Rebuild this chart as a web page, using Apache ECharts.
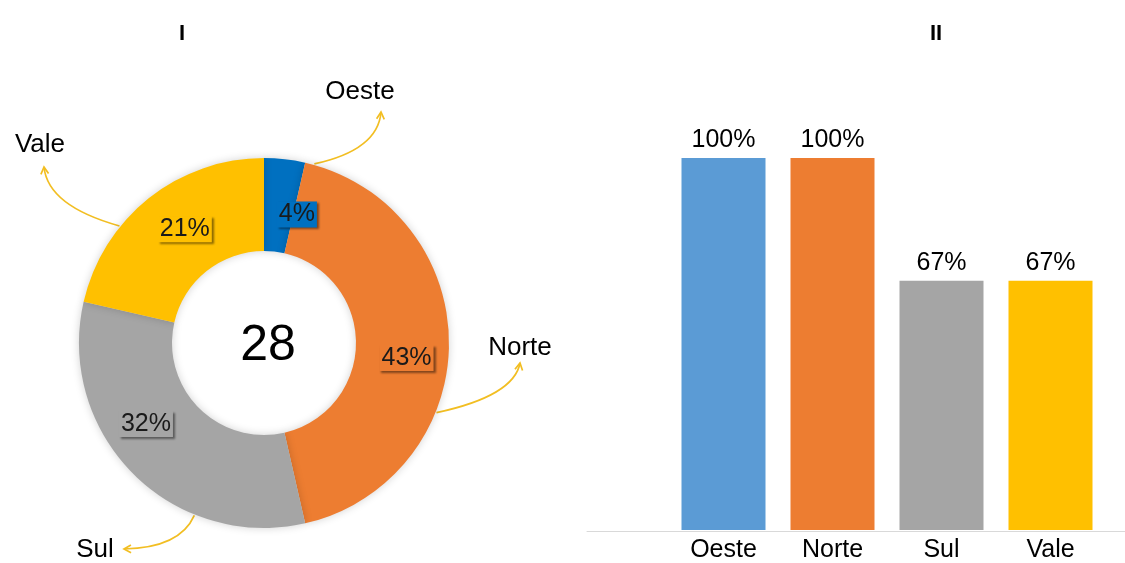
<!DOCTYPE html>
<html>
<head>
<meta charset="utf-8">
<script src="https://cdn.jsdelivr.net/npm/echarts@6/dist/echarts.min.js"></script>
<style>
  html, body { margin: 0; padding: 0; background: #ffffff; }
  #chart { width: 1125px; height: 563px; }
</style>
</head>
<body>
<div id="chart"></div>
<script>
// ---- data ----
var categories = ['Oeste', 'Norte', 'Sul', 'Vale'];
var pieCounts = [1, 12, 9, 6];          // chart I: counts (total 28)
var barValues = [100, 100, 67, 67];     // chart II: percentages
var pieColors = ['#0070C0', '#ED7D31', '#A5A5A5', '#FFC000'];
var barColors = ['#5B9BD5', '#ED7D31', '#A5A5A5', '#FFC000'];
var titles = ['I', 'II'];

// ---- layout constants ----
var FONT = "'Liberation Sans', Arial, sans-serif";
var PIE_CENTER = [264, 343];
var PIE_R_OUT = 185;
var PIE_R_IN = 92;
// name label centres and arrow geometry (annotation layout)
var nameLabelPos = [[360, 92], [520, 348], [95, 550], [40, 145]];
var arrowStartAngle = [15.7, 112, 202, 309];           // degrees clockwise from top
var arrowEnd = [[381, 112], [520, 363], [124, 549], [44, 167]];
var arrowCtrl = [[378, 150], [514, 396], [180, 548], [48, 206]];

var total = pieCounts.reduce(function (a, b) { return a + b; }, 0);

var chart = echarts.init(document.getElementById('chart'));

function arrowGraphics() {
  var els = [];
  var ARROW_COLOR = '#F2BE22';
  for (var i = 0; i < categories.length; i++) {
    var a = arrowStartAngle[i] * Math.PI / 180;
    var sx = PIE_CENTER[0] + (PIE_R_OUT + 1) * Math.sin(a);
    var sy = PIE_CENTER[1] - (PIE_R_OUT + 1) * Math.cos(a);
    var e = arrowEnd[i], c = arrowCtrl[i];
    els.push({
      type: 'bezierCurve',
      silent: true,
      shape: { x1: sx, y1: sy, x2: e[0], y2: e[1], cpx1: c[0], cpy1: c[1] },
      style: { stroke: ARROW_COLOR, lineWidth: 1.7, fill: null }
    });
    // arrow head (open chevron)
    var dx = e[0] - c[0], dy = e[1] - c[1];
    var len = Math.sqrt(dx * dx + dy * dy);
    dx /= len; dy /= len;
    var hl = 8, ang = 0.5;
    var p1 = [e[0] - hl * (dx * Math.cos(ang) - dy * Math.sin(ang)),
              e[1] - hl * (dy * Math.cos(ang) + dx * Math.sin(ang))];
    var p2 = [e[0] - hl * (dx * Math.cos(-ang) - dy * Math.sin(-ang)),
              e[1] - hl * (dy * Math.cos(-ang) + dx * Math.sin(-ang))];
    els.push({
      type: 'polyline',
      silent: true,
      shape: { points: [p1, e, p2] },
      style: { stroke: ARROW_COLOR, lineWidth: 1.7, fill: null }
    });
  }
  return els;
}

var pieData = categories.map(function (name, i) {
  return {
    name: name,
    value: pieCounts[i],
    itemStyle: { color: pieColors[i] },
    label: { backgroundColor: pieColors[i] }
  };
});

var option = {
  backgroundColor: '#ffffff',
  animation: false,
  textStyle: { fontFamily: FONT },
  title: [
    { text: titles[0], left: 177, top: 18, textAlign: 'center',
      textStyle: { fontSize: 22, fontWeight: 'bold', color: '#000', fontFamily: FONT } },
    { text: titles[1], left: 931, top: 18, textAlign: 'center',
      textStyle: { fontSize: 22, fontWeight: 'bold', color: '#000', fontFamily: FONT } }
  ],
  grid: [
    { left: 669, right: 20, top: 158, bottom: 32 },
    { left: 587, right: 0, top: 158, bottom: 32 }
  ],
  xAxis: [
    {
      type: 'category', gridIndex: 0, data: categories,
      axisLine: { show: false }, axisTick: { show: false },
      axisLabel: { color: '#000', fontSize: 25, fontFamily: FONT, margin: 8 }
    },
    {
      type: 'category', gridIndex: 1, data: [''],
      axisLine: { show: true, lineStyle: { color: '#D9D9D9', width: 1 } },
      axisTick: { show: false }, axisLabel: { show: false }
    }
  ],
  yAxis: [
    { type: 'value', gridIndex: 0, min: 0, max: 100, show: false, splitLine: { show: false } },
    { type: 'value', gridIndex: 1, min: 0, max: 100, show: false, splitLine: { show: false } }
  ],
  graphic: [
    {
      type: 'text', silent: true,
      x: PIE_CENTER[0] + 4, y: PIE_CENTER[1] + 3,
      style: {
        text: String(total), fontSize: 50, fontFamily: FONT, fill: '#000',
        textAlign: 'center', textVerticalAlign: 'middle'
      }
    }
  ].concat(arrowGraphics()),
  series: [
    {
      type: 'pie',
      center: PIE_CENTER,
      radius: [PIE_R_IN, PIE_R_OUT],
      startAngle: 90,
      clockwise: true,
      avoidLabelOverlap: false,
      silent: true,
      itemStyle: { borderWidth: 0, shadowBlur: 8, shadowColor: 'rgba(0,0,0,0.18)' },
      label: {
        show: true,
        position: 'inside',
        fontSize: 25,
        fontFamily: FONT,
        color: '#1a1a1a',
        padding: [1, 2, 0, 2],
        shadowColor: 'rgba(0,0,0,0.45)',
        shadowBlur: 2,
        shadowOffsetX: 2,
        shadowOffsetY: 2,
        formatter: function (p) { return Math.round(p.value / total * 100) + '%'; }
      },
      labelLayout: function (p) {
        var shifts = [[17, 12], [1, 15], [-18, -19], [9, -3]];
        var s = shifts[p.dataIndex];
        return { dx: s[0], dy: s[1] };
      },
      labelLine: { show: false },
      data: pieData
    },
    {
      type: 'pie',
      center: PIE_CENTER,
      radius: [PIE_R_IN, PIE_R_OUT],
      startAngle: 90,
      clockwise: true,
      silent: true,
      avoidLabelOverlap: false,
      itemStyle: { color: 'rgba(0,0,0,0)' },
      label: {
        show: true,
        position: 'outside',
        fontSize: 26,
        fontFamily: FONT,
        color: '#000',
        formatter: '{b}'
      },
      labelLine: { show: false },
      labelLayout: function (p) {
        var pos = nameLabelPos[p.dataIndex];
        return { x: pos[0], y: pos[1], align: 'center', verticalAlign: 'middle' };
      },
      data: categories.map(function (name, i) { return { name: name, value: pieCounts[i] }; }),
      z: 3
    },
    {
      type: 'bar',
      xAxisIndex: 0, yAxisIndex: 0,
      barWidth: 84,
      silent: true,
      data: barValues.map(function (v, i) {
        return { value: v, itemStyle: { color: barColors[i] } };
      }),
      label: {
        show: true, position: 'top', distance: 5,
        fontSize: 25, fontFamily: FONT, color: '#000',
        formatter: '{c}%'
      }
    }
  ]
};

chart.setOption(option);
</script>
</body>
</html>
